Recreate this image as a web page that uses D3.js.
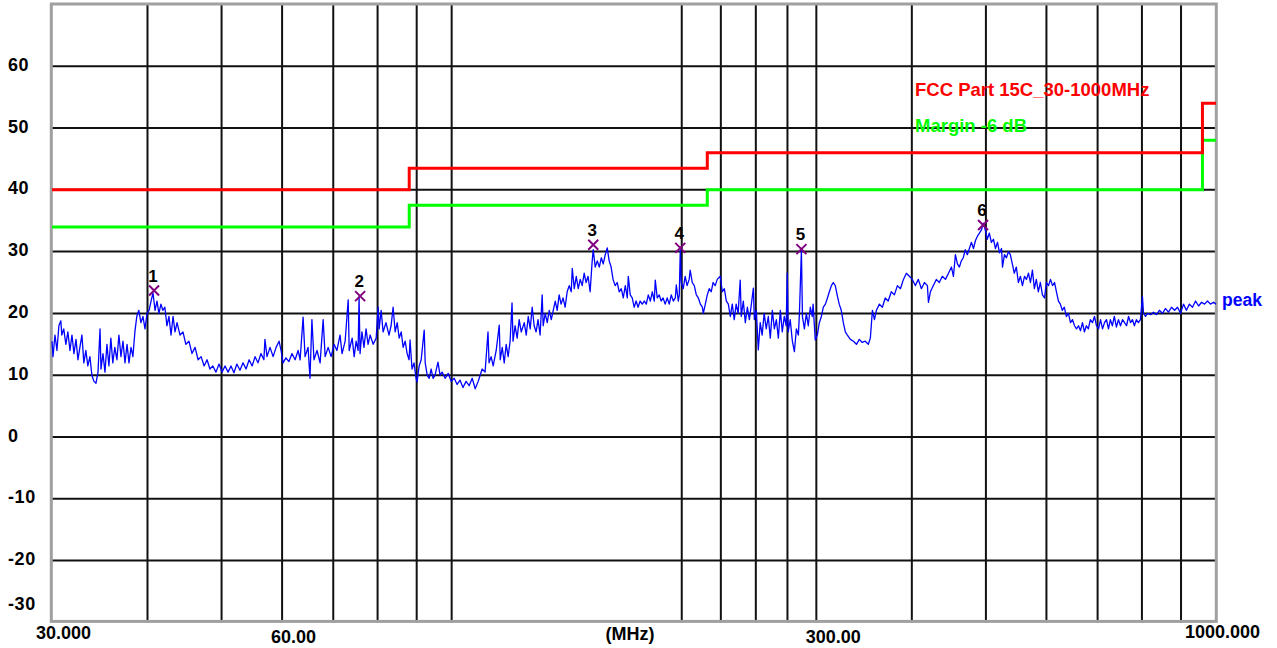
<!DOCTYPE html>
<html><head><meta charset="utf-8">
<script src="https://cdn.jsdelivr.net/npm/d3@7"></script>
<style>
html,body{margin:0;padding:0;background:#fff;}
svg{display:block;}
text{font-family:"Liberation Sans",Arial,sans-serif;font-weight:bold;}
</style></head><body>
<svg id="chart" width="1277" height="648"></svg>
<script>
// ---------- data ----------
const yTickValues = [60, 50, 40, 30, 20, 10, 0, -10, -20, -30];
const xGridFreqs = [40, 50, 60, 70, 80, 90, 100, 200, 225, 250, 275, 300, 400, 500, 600, 700, 800, 900];
const xLabelFreqs = [30, 60, 300, 1000];
const xLabelTexts = ["30.000", "60.00", "300.00", "1000.000"];
const unitLabel = "(MHz)";
const limitFreq = [30, 88, 216, 960, 1000];
const limitLevel = [40, 43.5, 46, 54, 54];
const marginLevel = [34, 37.5, 40, 48, 48];
const limitName = "FCC Part 15C_30-1000MHz";
const marginName = "Margin -6 dB";
const traceName = "peak";
const markerIds = ["1", "2", "3", "4", "5", "6"];
const markerFreq = [40.8, 75.9, 153.2, 199.1, 286.8, 495.7];
const markerLevel = [23.7, 22.8, 31.1, 30.6, 30.4, 34.3];
// peak trace: [frequency MHz, level dBuV/m]
const peakTrace = [
[30.00,15.5],[30.09,13.0],[30.27,16.5],[30.45,14.0],[30.63,18.0],[30.81,18.8],[30.90,16.5],[31.08,17.5],[31.28,15.0],[31.47,17.0],[31.67,14.0],[31.86,16.5],[32.05,13.5],[32.25,15.8],[32.44,12.5],[32.63,14.5],[32.83,16.5],[33.02,12.0],[33.22,14.0],[33.42,11.5],[33.63,13.0],[33.83,10.0],[34.04,9.0],[34.25,8.7],[34.46,10.5],[34.67,17.5],[34.77,11.0],[34.98,13.5],[35.19,10.5],[35.40,15.0],[35.61,11.5],[35.82,16.0],[36.03,12.0],[36.25,14.5],[36.48,12.5],[36.70,16.5],[36.93,13.0],[37.15,15.5],[37.38,12.0],[37.61,15.0],[37.83,12.0],[38.06,14.5],[38.28,13.0],[38.51,17.0],[38.73,19.5],[38.97,20.5],[39.22,18.5],[39.46,19.5],[39.70,17.5],[39.95,20.0],[40.19,20.5],[40.43,22.0],[40.67,23.3],[40.92,20.5],[41.16,22.0],[41.40,20.0],[41.65,21.5],[41.89,20.5],[42.15,21.0],[42.41,18.0],[42.67,19.5],[42.94,16.5],[43.20,19.5],[43.46,17.0],[43.72,18.5],[44.12,16.5],[44.51,17.0],[44.90,15.0],[45.32,15.5],[45.74,13.5],[46.16,14.5],[46.59,12.5],[47.01,13.0],[47.44,11.5],[47.86,12.5],[48.28,11.0],[48.70,11.5],[49.16,10.5],[49.62,11.8],[50.07,10.5],[50.53,11.5],[50.99,10.5],[51.44,11.5],[51.90,10.4],[52.36,11.8],[52.85,10.8],[53.34,12.0],[53.83,11.0],[54.33,12.5],[54.82,11.5],[55.31,13.0],[55.80,12.0],[56.30,13.5],[56.80,12.5],[56.98,15.8],[57.33,13.0],[57.86,14.5],[58.40,13.0],[58.93,14.5],[59.46,15.5],[59.81,14.0],[60.17,12.0],[60.70,12.8],[61.25,12.2],[61.82,13.5],[62.40,12.5],[62.97,14.0],[63.35,12.5],[63.92,19.4],[64.30,13.0],[64.88,14.5],[65.26,9.5],[65.64,19.0],[66.05,12.5],[66.66,14.0],[67.28,12.0],[67.90,19.0],[68.31,13.0],[68.93,14.5],[69.55,13.0],[70.16,15.0],[70.78,14.0],[71.44,16.5],[71.88,13.5],[72.55,15.5],[73.22,22.2],[73.44,14.0],[74.10,16.0],[74.55,13.0],[74.99,15.5],[75.44,14.0],[75.66,22.7],[75.88,13.5],[76.32,17.0],[76.79,14.5],[77.27,17.5],[77.74,15.0],[78.22,16.5],[78.94,15.0],[79.66,16.0],[80.14,21.0],[80.38,17.5],[80.86,20.5],[81.34,17.0],[82.05,18.5],[82.80,16.5],[83.32,18.0],[83.83,21.0],[84.35,17.0],[84.87,18.5],[85.38,16.0],[85.90,17.0],[86.41,14.5],[86.93,15.5],[87.45,13.5],[87.96,12.5],[88.22,15.7],[88.74,11.0],[89.28,12.0],[89.84,9.5],[90.11,8.9],[90.67,11.5],[91.23,12.5],[92.06,17.3],[92.34,12.0],[92.90,10.0],[93.45,9.5],[94.01,11.0],[94.57,9.5],[95.12,10.0],[95.96,12.1],[96.56,10.0],[97.16,10.5],[98.06,9.5],[98.96,10.3],[99.86,9.0],[100.76,9.5],[101.66,8.5],[102.56,9.2],[103.47,8.0],[104.44,9.0],[105.41,8.3],[106.38,9.5],[107.35,7.8],[108.32,9.0],[108.97,10.0],[109.62,11.0],[110.59,10.5],[111.57,17.0],[111.92,12.0],[112.62,13.0],[113.32,11.5],[114.36,14.0],[115.41,18.1],[115.76,12.5],[116.46,14.5],[117.16,12.0],[117.85,15.0],[118.55,13.0],[119.25,15.5],[119.95,21.7],[120.31,15.5],[121.06,18.0],[121.81,16.0],[122.56,19.0],[123.32,17.0],[124.44,18.5],[125.20,16.5],[125.95,19.5],[126.70,17.5],[127.45,21.0],[128.21,18.0],[128.96,17.0],[129.72,19.0],[130.53,16.5],[131.35,23.0],[131.75,18.0],[132.56,20.0],[133.37,18.5],[134.18,20.5],[135.00,19.0],[135.81,20.5],[136.62,22.0],[137.43,20.5],[138.24,23.0],[139.05,21.5],[139.87,22.5],[140.75,21.0],[141.62,23.5],[142.50,24.5],[143.37,23.5],[143.81,27.3],[144.68,24.0],[145.56,26.0],[146.43,24.0],[147.31,25.5],[148.18,24.5],[149.06,26.5],[149.93,25.0],[150.82,26.0],[151.76,23.5],[152.71,28.5],[153.18,30.3],[154.12,27.5],[155.07,28.5],[156.01,27.5],[156.95,29.0],[157.89,28.0],[158.84,29.5],[159.78,30.6],[160.72,28.5],[161.67,27.5],[162.62,25.5],[163.64,24.5],[164.65,25.0],[165.67,23.5],[166.69,24.0],[167.70,22.5],[168.72,24.5],[169.74,22.5],[170.25,26.0],[171.26,23.0],[172.28,22.5],[173.30,21.0],[174.31,22.0],[175.35,21.0],[176.45,22.0],[177.54,21.5],[178.64,22.0],[179.74,21.5],[180.83,23.0],[181.93,22.0],[183.03,23.5],[184.12,22.0],[184.67,25.4],[185.77,22.5],[186.86,23.0],[187.96,22.0],[189.07,22.5],[190.25,21.5],[191.43,22.5],[192.61,21.5],[193.80,23.0],[194.98,22.0],[196.16,22.5],[196.75,24.6],[197.93,22.0],[198.52,23.0],[199.12,30.3],[199.71,25.0],[200.89,24.0],[202.07,26.0],[203.25,24.5],[204.52,25.5],[205.15,27.0],[206.43,25.0],[207.70,24.5],[208.98,23.0],[210.26,22.5],[211.53,21.5],[212.81,21.0],[213.44,20.0],[214.72,21.5],[215.99,23.0],[217.27,24.0],[218.54,23.5],[219.82,25.0],[221.20,24.5],[222.57,25.5],[224.63,26.0],[226.01,23.5],[227.38,24.0],[228.76,22.0],[230.13,21.5],[231.51,19.5],[232.88,21.5],[234.26,19.0],[235.63,21.5],[237.04,20.0],[238.52,25.4],[239.26,19.5],[240.74,22.0],[242.22,18.5],[243.71,21.0],[245.19,19.0],[246.67,21.5],[248.15,24.1],[248.89,19.0],[250.38,20.5],[251.86,14.1],[253.34,18.5],[254.82,16.5],[256.37,20.0],[257.97,17.5],[259.57,19.5],[261.16,16.0],[262.76,20.5],[264.36,17.5],[265.96,19.0],[267.56,16.0],[269.16,20.5],[270.75,17.0],[272.35,19.5],[273.95,18.0],[274.8,26.5],[275.6,17.0],[277.3,19.0],[279.1,15.5],[280.8,13.8],[282.5,17.5],[284.2,16.5],[285.1,20.0],[286.8,30.3],[287.7,19.5],[289.4,17.5],[291.1,20.0],[292.8,18.0],[294.6,21.0],[296.3,19.5],[297.1,21.5],[299.0,15.7],[300.9,16.5],[302.7,18.5],[304.6,19.5],[306.4,21.0],[308.3,21.5],[310.2,22.5],[312.0,23.5],[313.9,24.5],[315.7,25.0],[317.6,24.5],[319.4,23.0],[321.4,21.5],[323.4,20.5],[325.4,18.5],[327.4,17.0],[329.4,16.5],[332.4,15.8],[335.5,15.5],[338.5,15.0],[341.5,15.8],[344.5,15.3],[347.6,15.5],[350.9,15.0],[353.0,16.0],[355.2,20.5],[357.4,19.0],[359.5,20.5],[362.8,21.5],[366.0,21.0],[369.2,22.5],[372.5,22.0],[376.0,23.5],[379.5,23.0],[383.0,24.5],[386.5,24.0],[390.0,25.5],[393.5,26.5],[397.0,26.0],[400.6,25.5],[404.2,24.5],[407.9,25.5],[411.7,24.0],[415.5,25.0],[419.2,24.5],[420.5,21.8],[423.0,23.5],[426.8,24.5],[430.6,25.5],[434.5,25.0],[438.5,26.0],[442.6,25.5],[446.7,26.5],[450.7,27.5],[453.4,26.0],[456.1,29.5],[458.9,28.0],[461.6,27.5],[464.3,28.5],[467.0,29.0],[469.9,30.3],[472.8,29.5],[475.7,30.5],[478.7,31.5],[481.6,30.5],[484.5,31.8],[487.4,32.5],[490.3,33.0],[493.3,33.5],[496.2,34.6],[499.1,33.5],[502.0,32.0],[505.2,33.0],[508.3,31.5],[511.5,32.0],[514.6,30.5],[517.8,31.5],[520.9,29.8],[524.1,30.5],[525.6,27.5],[528.8,29.5],[531.9,29.0],[535.1,30.0],[538.2,29.5],[541.4,28.0],[544.6,26.5],[548.0,27.5],[551.4,25.0],[554.8,26.0],[558.2,24.5],[561.6,26.0],[565.0,25.5],[568.4,26.5],[571.8,25.0],[575.2,27.0],[578.6,24.0],[582.0,25.5],[585.5,23.5],[589.1,25.0],[592.8,23.0],[596.5,22.5],[600.1,25.0],[603.8,24.5],[607.4,25.5],[611.1,24.5],[614.8,25.0],[618.4,23.5],[622.1,22.0],[625.7,21.5],[629.4,20.5],[633.2,21.0],[637.2,19.5],[641.1,20.0],[645.1,18.5],[649.0,19.0],[653.0,18.0],[656.9,17.5],[660.9,18.0],[664.8,17.2],[668.8,18.5],[672.7,17.0],[676.7,18.0],[680.7,17.5],[684.9,19.0],[689.2,18.5],[693.5,19.5],[697.7,18.0],[702.0,17.5],[706.2,19.0],[710.5,17.5],[714.7,18.5],[719.0,19.0],[723.3,17.5],[727.5,19.0],[731.8,18.0],[736.2,19.5],[740.8,17.8],[745.4,19.0],[750.0,18.0],[754.6,19.0],[759.2,18.5],[763.8,18.0],[768.4,19.5],[773.0,18.5],[777.5,19.0],[782.1,18.0],[786.7,19.0],[791.4,18.5],[796.4,19.0],[801.3,22.7],[803.8,20.0],[808.7,19.5],[813.7,20.0],[821.1,19.8],[828.5,20.2],[835.9,19.8],[843.3,20.5],[851.3,20.0],[858.6,20.8],[866.6,20.2],[874.6,21.0],[882.7,20.5],[890.7,21.0],[898.7,20.0],[906.7,21.5],[914.7,20.5],[923.0,21.5],[931.6,21.0],[940.3,22.0],[948.9,21.2],[957.5,21.8],[966.2,21.5],[974.8,22.0],[983.4,21.5],[992.8,21.8],[1000,21.5]
];

// ---------- drawing ----------
const svg = d3.select("#chart");
const x = d3.scaleLog().domain([30, 1000]).range([52, 1216]);
const y = d3.scaleLinear().domain([-30, 70]).range([622.4, 4.4]);

const gGrid = svg.append("g");
// horizontal grid
gGrid.selectAll("line.h").data(yTickValues.filter(v => v > -30 && v < 70)).enter()
  .append("line").attr("class", "h")
  .attr("x1", x(30)).attr("x2", x(1000))
  .attr("y1", d => y(d)).attr("y2", d => y(d))
  .attr("stroke", "#111").attr("stroke-width", 2);
// vertical grid
gGrid.selectAll("line.v").data(xGridFreqs).enter()
  .append("line").attr("class", "v")
  .attr("x1", d => x(d)).attr("x2", d => x(d))
  .attr("y1", y(70)).attr("y2", y(-30))
  .attr("stroke", "#111").attr("stroke-width", 2);

// border
svg.append("rect")
  .attr("x", x(30) - 0.7).attr("y", y(70) - 0.4)
  .attr("width", x(1000) - x(30) + 1.0).attr("height", y(-30) - y(70) - 0.6)
  .attr("fill", "none").attr("stroke", "#a0a0a0").attr("stroke-width", 3);

// y labels
svg.selectAll("text.yl").data(yTickValues).enter()
  .append("text").attr("class", "yl")
  .attr("x", 8)
  .attr("y", d => d === -30 ? y(d) - 12 : y(d) + 4.5)
  .attr("font-size", 18).attr("fill", "#000")
  .attr("letter-spacing", 0.6)
  .text(d => d);

// x labels
const xLabelShift = [11.5, 11.5, 17, 6.5];
const xLabelBase = [639, 643, 643, 638];
svg.selectAll("text.xl").data(xLabelFreqs).enter()
  .append("text").attr("class", "xl")
  .attr("x", (d, i) => x(d) + xLabelShift[i])
  .attr("y", (d, i) => xLabelBase[i])
  .attr("text-anchor", "middle")
  .attr("font-size", 18).attr("fill", "#000")
  .text((d, i) => xLabelTexts[i]);
svg.append("text")
  .attr("x", 630).attr("y", 640).attr("text-anchor", "middle")
  .attr("font-size", 18).attr("fill", "#000").text(unitLabel);

// limit & margin lines
const stepLine = d3.line().curve(d3.curveStepAfter).x(d => x(d[0])).y(d => y(d[1]));
svg.append("path").datum(limitFreq.map((f, i) => [f, marginLevel[i]]))
  .attr("d", stepLine).attr("fill", "none").attr("stroke", "#00ff00").attr("stroke-width", 3);
svg.append("path").datum(limitFreq.map((f, i) => [f, limitLevel[i]]))
  .attr("d", stepLine).attr("fill", "none").attr("stroke", "#ff0000").attr("stroke-width", 3);

// legend texts
svg.append("text").attr("x", 915).attr("y", 96)
  .attr("font-size", 18.5).attr("fill", "#ff0000").text(limitName);
svg.append("text").attr("x", 915).attr("y", 131.5)
  .attr("font-size", 18.5).attr("fill", "#00ff00").text(marginName);

// trace
const traceLine = d3.line().x(d => x(d[0])).y(d => y(d[1]));
svg.append("path").datum(peakTrace)
  .attr("d", traceLine).attr("fill", "none")
  .attr("stroke", "#0000ff").attr("stroke-width", 1.3).attr("stroke-linejoin", "round");
const last = peakTrace[peakTrace.length - 1];
svg.append("text").attr("x", x(last[0]) + 6).attr("y", y(last[1]) + 2)
  .attr("font-size", 17.5).attr("fill", "#0000ff").text(traceName);

// markers
const mk = svg.selectAll("g.mk").data(markerFreq).enter().append("g").attr("class", "mk")
  .attr("transform", (d, i) => `translate(${x(d)},${y(markerLevel[i])})`);
mk.append("path").attr("d", "M-5,-5L5,5M-5,5L5,-5")
  .attr("stroke", "#800080").attr("stroke-width", 2).attr("fill", "none");
mk.append("text").attr("x", -1).attr("y", -9).attr("text-anchor", "middle")
  .attr("font-size", 17).attr("fill", "#000").text((d, i) => markerIds[i]);
</script>
</body></html>
